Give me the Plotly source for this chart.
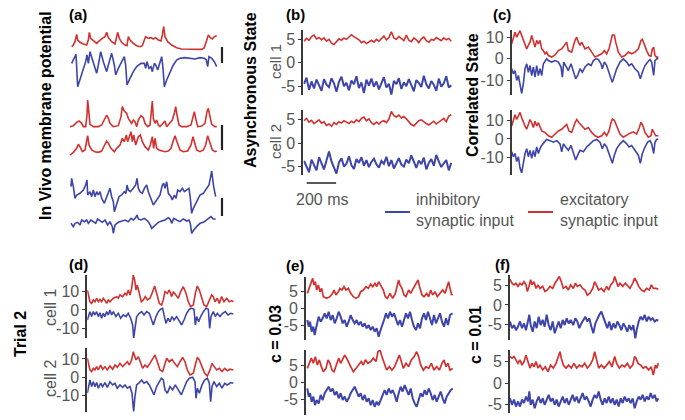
import numpy as np
import plotly.graph_objects as go

W, H = 685, 420
RED = "#d3312f"
BLUE = "#3d44aa"
AXC = "#3a3a3a"
TXC = "#555555"
FONT = "Liberation Sans, Arial, sans-serif"

# ---------------- (a) in vivo membrane potential (t: samples, v: a.u.) ----------------
A_RED1 = [(20,-65),(25,-60),(30,-50),(35,-28),(38,-45),(45,-52),(55,-57),(65,-60),(70,-45),(73,-22),(77,-40),(85,-48),(95,-55),(100,-50),(105,-45),(112,-40),(120,-35),(125,-22),(130,-38),(140,-50),(150,-57),(155,-40),(158,-22),(163,-40),(170,-52),(180,-60),(186,-62),(190,-35),(195,-45),(205,-55),(215,-62),(225,-65),(232,-62),(238,-45),(242,-35),(250,-40),(258,-38),(265,-42),(272,-38),(280,-45),(288,-48),(292,-30),(296,-5),(300,-35),(308,-50),(320,-60),(335,-68),(350,-72),(370,-73),(390,-73),(410,-73),(418,-68),(425,-45),(430,-30),(436,-38),(442,-42),(448,-35),(455,-32)]
A_BLUE1 = [(20,-115),(28,-100),(33,-88),(38,-185),(50,-150),(62,-110),(66,-90),(70,-115),(75,-80),(85,-115),(95,-145),(100,-120),(107,-80),(115,-110),(125,-140),(130,-120),(140,-85),(148,-120),(152,-150),(160,-130),(170,-110),(178,-95),(182,-120),(186,-180),(195,-160),(205,-140),(215,-125),(228,-115),(238,-115),(242,-130),(246,-110),(252,-130),(258,-125),(262,-140),(268,-115),(272,-120),(278,-135),(284,-115),(290,-95),(294,-130),(298,-185),(305,-165),(315,-140),(325,-120),(335,-105),(345,-100),(360,-98),(375,-100),(390,-102),(405,-98),(418,-100),(424,-105),(428,-125),(432,-95),(440,-100),(448,-110),(455,-125)]
A_RED2 = [(15,-95),(25,-92),(35,-82),(42,-78),(50,-85),(55,-95),(62,-95),(66,-60),(68,-15),(71,-60),(75,-88),(85,-95),(100,-95),(110,-90),(118,-75),(125,-60),(130,-70),(135,-85),(145,-95),(160,-92),(168,-65),(172,-35),(178,-48),(185,-55),(190,-70),(195,-78),(200,-85),(205,-75),(210,-80),(215,-95),(220,-75),(228,-62),(235,-68),(240,-85),(248,-95),(255,-90),(260,-50),(262,-18),(265,-70),(270,-85),(275,-75),(280,-90),(285,-95),(295,-85),(300,-78),(305,-95),(315,-85),(322,-75),(328,-55),(332,-35),(336,-60),(342,-90),(350,-95),(365,-95),(378,-90),(384,-60),(388,-50),(392,-70),(398,-95),(410,-93),(420,-85),(426,-50),(430,-40),(434,-60),(440,-88),(450,-95),(455,-95)]
A_RED3 = [(15,-180),(25,-172),(35,-160),(40,-148),(45,-155),(52,-170),(60,-165),(64,-140),(68,-122),(72,-150),(80,-165),(90,-170),(100,-172),(110,-168),(118,-150),(125,-138),(130,-145),(138,-160),(148,-170),(155,-160),(165,-150),(172,-130),(178,-140),(184,-120),(188,-140),(192,-130),(198,-110),(202,-140),(206,-120),(212,-150),(220,-125),(226,-120),(232,-140),(240,-155),(250,-165),(256,-150),(262,-125),(266,-160),(270,-130),(275,-160),(282,-165),(292,-168),(300,-170),(310,-168),(318,-160),(324,-140),(330,-122),(336,-140),(345,-165),(355,-170),(368,-168),(378,-150),(384,-125),(388,-140),(395,-165),(405,-170),(415,-165),(422,-150),(428,-122),(434,-140),(442,-165),(450,-170),(455,-168)]
A_BLUE2 = [(18,-65),(20,-40),(25,-65),(30,-100),(35,-90),(45,-85),(55,-75),(62,-60),(66,-45),(68,-90),(75,-80),(80,-95),(85,-75),(90,-95),(95,-80),(100,-90),(105,-80),(110,-100),(118,-115),(125,-95),(130,-85),(135,-70),(140,-95),(145,-110),(148,-140),(155,-115),(162,-95),(170,-90),(178,-80),(183,-85),(186,-60),(190,-75),(196,-80),(205,-70),(212,-60),(216,-40),(220,-70),(225,-80),(232,-85),(238,-70),(245,-60),(250,-80),(255,-95),(260,-110),(265,-120),(275,-105),(285,-90),(292,-60),(296,-55),(300,-70),(305,-50),(310,-85),(318,-95),(322,-105),(328,-90),(333,-100),(338,-75),(345,-80),(352,-70),(358,-80),(365,-75),(372,-70),(376,-100),(380,-145),(385,-130),(395,-110),(405,-90),(415,-85),(425,-70),(432,-60),(436,-40),(440,-18),(446,-65),(452,-95)]
A_BLUE3 = [(18,-175),(25,-185),(30,-175),(38,-172),(45,-180),(50,-165),(58,-170),(65,-165),(70,-175),(78,-165),(85,-170),(92,-175),(98,-162),(105,-168),(112,-172),(120,-165),(128,-180),(135,-170),(142,-185),(145,-205),(150,-180),(160,-172),(170,-168),(180,-165),(190,-170),(198,-160),(205,-165),(212,-158),(216,-150),(220,-162),(228,-165),(238,-160),(248,-168),(255,-178),(260,-190),(270,-180),(280,-172),(290,-168),(300,-165),(310,-158),(315,-162),(320,-175),(326,-160),(335,-165),(345,-170),(355,-162),(365,-168),(372,-165),(376,-175),(380,-205),(386,-195),(395,-185),(405,-175),(415,-172),(425,-165),(432,-160),(438,-155),(445,-162),(452,-162)]

# ---------------- (b) asynchronous state (uniformly sampled over ~1 s) ----------------
B1_EXC = [4.6,5.2,4.8,5.6,5.9,5.1,5.4,4.9,5.3,4.6,5.0,4.2,3.9,4.6,5.1,4.8,5.3,5.0,5.5,6.0,5.6,5.2,4.9,4.3,4.6,4.1,4.5,4.8,4.4,5.0,4.6,5.2,5.7,4.9,5.4,6.6,5.3,5.0,5.6,5.2,4.7,5.9,4.8,4.5,5.3,4.9,4.3,5.1,5.5,4.7,4.4,5.0,4.8,5.4,5.1,4.7,5.3,4.9,5.2,4.6]
B1_INH = [-4.5,-3.2,-5.8,-4.0,-5.5,-3.6,-4.8,-6.0,-3.5,-4.7,-5.2,-3.3,-4.4,-6.2,-4.1,-3.0,-5.0,-4.3,-5.9,-3.8,-4.6,-2.9,-5.4,-4.2,-6.5,-3.6,-4.9,-3.4,-5.1,-4.0,-5.7,-4.4,-3.1,-5.3,-4.5,-6.8,-3.9,-4.6,-3.3,-5.6,-4.2,-5.0,-3.5,-4.8,-6.1,-3.7,-4.3,-5.2,-2.8,-4.6,-5.5,-3.9,-4.7,-6.0,-3.4,-5.1,-4.4,-2.9,-5.3,-4.8]
B2_EXC = [4.8,5.3,4.5,4.9,4.2,4.7,5.0,4.3,4.6,3.8,4.1,3.6,4.4,4.0,4.6,4.3,4.8,4.5,4.2,4.7,4.4,5.0,4.6,5.3,5.6,4.8,5.2,4.4,4.0,4.5,4.1,4.6,4.8,4.4,5.1,6.8,5.9,5.6,6.0,5.4,5.7,5.2,4.6,4.0,3.7,4.3,4.8,5.0,4.5,4.2,3.9,4.4,4.7,4.1,4.5,4.9,5.3,4.6,5.8,6.1]
B2_INH = [-3.8,-5.0,-6.2,-3.5,-4.6,-5.8,-3.0,-4.4,-5.6,-3.7,-1.8,-3.9,-5.3,-6.5,-4.1,-3.2,-5.0,-4.4,-2.8,-4.7,-5.5,-3.4,-4.2,-3.0,-4.8,-3.6,-5.1,-4.0,-3.3,-4.5,-5.2,-3.8,-4.4,-2.9,-4.9,-3.6,-5.4,-4.1,-3.2,-4.6,-5.0,-3.5,-4.3,-2.6,-4.0,-5.3,-3.7,-4.5,-3.1,-5.6,-4.2,-3.4,-4.8,-2.5,-3.9,-5.1,-4.3,-3.6,-5.8,-4.2]

# ---------------- (c) correlated state (t: samples, v) ----------------
C1_EXC = [(20,6.9),(25,9.2),(30,12.3),(35,10),(40,11.5),(45,13),(50,10.8),(55,8.5),(60,6.9),(65,4.6),(70,6.2),(75,7.7),(80,10.8),(85,8.5),(90,5.4),(95,8.5),(100,6.9),(105,8.5),(110,4.6),(115,3.8),(120,2.3),(125,3.1),(130,1.5),(140,0.8),(150,1.8),(160,3.8),(170,4.6),(178,6.2),(185,7.7),(190,3.8),(200,3.1),(210,8.5),(215,10),(220,7.7),(225,6.2),(230,7.7),(240,4.6),(250,5.4),(260,3.1),(265,1.5),(270,0.8),(280,1.5),(290,2.3),(298,3.8),(305,2.3),(312,4.6),(318,9.2),(322,11),(328,11),(332,7.7),(340,3.1),(350,0.8),(360,1.5),(370,3.1),(380,2.3),(390,3.1),(400,4.6),(408,8.5),(412,9),(418,6.2),(425,3.8),(432,1.5),(438,1.2),(442,4.6),(446,5.4),(450,1.5),(455,0.8),(460,0.8)]
C1_INH = [(20,-4.6),(25,-6.9),(30,-5.4),(35,-10),(40,-7.7),(45,-13),(50,-16),(55,-11.5),(60,-4.6),(65,-2.3),(70,-6.2),(75,-3.1),(80,-7.7),(85,-3.8),(90,-8.5),(95,-3.1),(100,-7.7),(105,-4.6),(110,-7.7),(115,-2.3),(120,-0.8),(125,0),(130,-0.8),(140,-1.5),(150,-0.8),(160,-1.5),(168,-3.8),(172,-8.5),(176,-1.5),(182,-3.1),(190,-5.4),(198,-2.3),(205,-6.2),(212,-9.2),(218,-7.7),(225,-4.6),(232,-6.2),(240,-3.8),(250,-2.3),(258,-3.1),(265,-0.8),(272,0),(280,-0.3),(288,-2.3),(292,-4.6),(298,-1.5),(305,-3.1),(312,-6.9),(318,-9.2),(322,-10.8),(328,-7.7),(335,-4.6),(345,-1.5),(355,0),(365,-1.5),(372,-3.1),(380,-2.3),(390,-4.6),(400,-6.2),(406,-9.2),(412,-6.2),(420,-3.1),(428,-1.5),(435,-0.3),(440,-1.5),(446,-7.7),(450,-0.8),(455,0),(460,0)]
C2_EXC = [(20,6.9),(25,9.5),(30,13),(35,10.4),(40,12.1),(45,14.2),(50,11.3),(55,8.7),(60,6.9),(65,5.2),(70,7.8),(75,10.4),(80,8.7),(85,6.1),(90,9.5),(95,6.9),(100,8.7),(105,6.9),(110,4.3),(120,3.5),(130,1.7),(140,0.9),(150,2.6),(160,4.3),(170,5.2),(178,6.9),(185,7.8),(192,4.3),(200,3.5),(210,8.7),(215,10.4),(222,8.7),(230,6.9),(240,5.2),(250,6.1),(260,3.5),(270,1.7),(280,0.9),(290,1.7),(298,3.5),(305,1.7),(312,4.3),(318,8.7),(322,10.7),(328,10),(335,6.9),(345,2.6),(355,0.9),(365,2.1),(375,3.1),(385,3.8),(395,2.6),(403,6.1),(408,9),(414,6.9),(420,3.5),(430,0.9),(438,1.7),(442,5.2),(446,3.5),(452,1.7),(460,1.7)]
C2_INH = [(20,-6.9),(25,-9.5),(30,-7.8),(35,-12.1),(40,-9.5),(45,-15.6),(50,-18.2),(55,-13),(60,-7.8),(65,-5.2),(70,-9.5),(75,-6.1),(80,-10.4),(85,-6.1),(90,-9.5),(95,-4.3),(100,-7.8),(105,-5.2),(110,-3.5),(118,-1.7),(125,-0.3),(135,-0.9),(145,-1.7),(155,-0.9),(165,-2.6),(170,-6.9),(175,-2.6),(182,-4.3),(190,-6.1),(198,-3.5),(205,-7.8),(212,-11.3),(218,-8.7),(225,-6.1),(235,-6.9),(245,-4.3),(255,-2.6),(265,-0.9),(275,-0.3),(285,-1.7),(292,-5.2),(298,-2.6),(305,-4.3),(312,-7.8),(318,-10.4),(322,-13),(328,-8.7),(335,-5.2),(345,-2.6),(355,-0.9),(365,-2.6),(372,-4.3),(380,-3.5),(390,-6.1),(400,-8.7),(406,-13),(412,-7.8),(420,-4.3),(428,-1.7),(435,-0.9),(440,-2.6),(446,-7.8),(450,-1.7),(455,-0.3),(460,0)]

# ---------------- (d) trial 2 ----------------
D1_EXC = [(22,10.9),(26,8.2),(30,4.5),(35,3.6),(40,5.5),(45,4.5),(50,6.4),(55,4.5),(60,5.8),(65,4.5),(70,6.4),(75,5.1),(80,3.6),(85,5.5),(90,4.5),(100,6.4),(110,7.3),(115,6.4),(120,8.2),(128,7.3),(135,9.1),(140,8.2),(145,10.9),(150,8.2),(155,11.8),(160,19.1),(164,16.4),(168,10.9),(172,13.6),(178,9.1),(184,4.5),(190,5.5),(196,7.3),(202,5.5),(210,6.4),(218,10),(224,13.1),(230,9.1),(238,3.6),(245,2.7),(250,5.5),(255,10),(262,9.1),(268,10.9),(275,7.3),(280,10),(288,8.2),(295,6.4),(302,10),(310,12.7),(318,9.1),(325,4.5),(332,1.8),(340,2.7),(346,9.1),(352,13.1),(358,10.9),(365,6.4),(372,2.7),(380,1.8),(388,5.5),(395,8.2),(400,7.3),(405,4.5),(412,6.4),(418,3.6),(425,7.3),(432,4.5),(440,6.4),(448,4.5),(455,5.1),(460,4.5)]
D1_INH = [(22,-5.5),(26,-2.7),(30,-0.9),(35,-3.6),(40,-0.9),(45,-2.7),(50,-0.9),(55,-3.6),(60,-1.5),(65,-4.5),(70,-1.8),(75,-3.6),(80,-0.9),(85,-2.7),(90,0),(95,-2.7),(100,-0.9),(108,-3.6),(115,-1.8),(122,-4.5),(130,-2.7),(138,-3.6),(145,-1.8),(152,-4.5),(158,-8.2),(161,-15.5),(165,-9.1),(170,-3.6),(178,-1.8),(185,-0.9),(192,-2.7),(200,-0.9),(208,-1.8),(215,-5.5),(220,-8.2),(228,-3.6),(235,-0.9),(242,0.4),(248,0.9),(252,-2.7),(258,-7.3),(264,-4.5),(270,-6.4),(276,-3.6),(282,-5.5),(290,-3.6),(298,-6.4),(305,-8.2),(312,-5.5),(320,-1.8),(328,0.4),(335,0.9),(342,0.4),(346,-8.2),(350,-3.6),(356,-6.4),(362,-3.6),(370,-0.9),(378,0.9),(385,0.4),(389,-10),(393,-3.6),(400,-0.9),(406,-3.6),(412,-1.8),(420,-3.6),(428,-1.8),(436,-0.9),(444,-2.7),(452,-1.8),(460,-2.2)]
D2_EXC = [(22,10.4),(26,6.7),(30,4),(35,3.1),(40,4.9),(45,4),(50,5.8),(55,4),(62,6.7),(68,4.4),(75,5.8),(82,4),(90,6.2),(98,4.4),(105,6.7),(112,5.5),(120,7.6),(128,5.8),(135,7.3),(142,8.5),(148,6.7),(155,9.5),(160,14),(164,12.2),(168,9.5),(175,11.3),(182,7.6),(188,4.9),(195,6.7),(202,5.5),(210,7.6),(218,10.4),(225,12.2),(232,8.5),(240,4),(248,3.1),(254,6.7),(260,10.4),(268,8.5),(276,9.8),(284,7.6),(292,5.8),(300,8.5),(308,10.9),(315,8.5),(322,4),(330,1.3),(340,2.2),(346,6.7),(352,10.9),(358,9.5),(366,5.8),(374,2.2),(382,0.7),(390,4),(396,7.6),(402,5.8),(410,4),(418,4.9),(426,3.1),(434,4.9),(442,3.6),(450,4.4),(460,4)]
D2_INH = [(22,-8.7),(26,-4.2),(30,-1.5),(35,-5.1),(40,-2.4),(45,-5.1),(50,-2.9),(55,-6),(62,-3.3),(68,-5.1),(75,-2.9),(82,-5.5),(90,-2.4),(98,-4.2),(105,-3.3),(112,-6),(120,-4.2),(128,-5.5),(135,-4.2),(142,-6),(150,-5.1),(156,-8.7),(161,-18.7),(165,-10.5),(170,-4.2),(178,-2.9),(185,-1.5),(192,-3.3),(200,-2.4),(208,-4.2),(215,-6.9),(222,-9.6),(230,-5.1),(238,-2.4),(244,-0.5),(250,-1.5),(255,-6.9),(262,-8.7),(270,-5.1),(278,-6.9),(286,-4.2),(295,-6.9),(304,-9.6),(312,-6),(320,-2.4),(328,-0.5),(338,0),(345,-2.4),(348,-11.5),(352,-6),(358,-8.7),(366,-4.2),(374,-1.5),(382,-0.5),(388,-3.3),(392,-13.3),(396,-5.1),(402,-2.4),(410,-5.1),(418,-3.3),(426,-6),(434,-3.3),(442,-4.2),(452,-2.9),(460,-3.3)]

# ---------------- (e) c = 0.03 ----------------
E1_EXC = [(22,4.5),(28,6),(34,7.5),(38,9),(42,7),(46,8),(50,5.5),(55,7),(60,5),(65,6),(70,3.5),(80,3),(90,3.5),(98,4.5),(102,5.5),(108,4),(115,5),(120,6),(126,5.5),(132,6.5),(138,5.5),(145,6),(152,4.5),(160,3.5),(168,3),(176,3.5),(182,5),(190,5.5),(198,6.5),(205,6),(212,7.3),(218,6.5),(225,7.5),(230,6.5),(236,8),(242,7),(250,5.5),(256,3.5),(262,3),(270,4.5),(278,3),(286,4.5),(292,7.5),(296,8.5),(300,7),(306,6),(312,4),(318,3.5),(326,5.5),(332,4.5),(340,6),(348,7.5),(354,8.5),(360,6),(366,4),(372,3.5),(380,4.5),(386,3.5),(392,5.5),(398,4),(405,5),(412,3.5),(420,4.5),(428,5.5),(435,4.5),(442,7),(446,8),(450,6),(455,4),(458,4.3)]
E1_INH = [(22,-3.5),(26,-5.5),(30,-4),(35,-7),(40,-5.5),(44,-8),(48,-6),(52,-4.5),(56,-2.5),(62,-4),(68,-3),(74,-1.5),(80,-3),(86,-1),(92,-3.5),(98,-2),(104,-4.5),(110,-3),(116,-1),(122,-2.5),(128,-4.5),(134,-3.5),(140,-5.5),(146,-4),(152,-2),(158,-3.5),(164,-4.5),(170,-3.5),(176,-5),(182,-4),(188,-5.5),(194,-4.5),(200,-6),(206,-5),(212,-6.5),(218,-5.5),(224,-7),(230,-6),(236,-8.5),(240,-7),(246,-5.5),(252,-3.5),(258,-1.5),(264,-3),(270,-1),(276,-2.5),(282,-1.5),(288,-3),(294,-5),(300,-3.5),(306,-5.5),(312,-3.5),(318,-1.5),(324,-3),(330,-1),(336,-3.5),(342,-5.5),(348,-6.5),(354,-4.5),(360,-6),(366,-3),(372,-1.5),(378,-3.5),(384,-1),(390,-3),(396,-5),(402,-2),(408,-4.5),(414,-3),(420,-1.5),(426,-4),(432,-5.5),(438,-3),(444,-5),(450,-2),(458,-1.5)]
E2_EXC = [(22,4.1),(28,5.6),(34,7.1),(40,5.6),(46,7.5),(52,5.1),(58,6.6),(64,4.6),(70,3.1),(78,4.1),(84,6.6),(90,5.6),(96,3.6),(102,3.1),(110,5.1),(116,7.1),(122,5.6),(128,6.6),(134,8),(140,7.1),(146,5.6),(152,4.6),(160,3.1),(168,4.1),(176,5.1),(184,6.1),(190,5.1),(196,6.6),(204,5.6),(212,6.1),(220,7.1),(228,6.1),(234,9),(240,9.5),(246,7.5),(252,5.6),(260,3.6),(268,4.6),(276,3.6),(284,4.6),(292,6.6),(298,8),(304,6.1),(310,4.1),(318,5.6),(326,4.6),(334,6.6),(342,7.5),(350,9),(356,7.5),(362,5.1),(370,3.6),(378,4.6),(386,4.1),(394,5.6),(402,3.6),(410,4.6),(418,3.6),(426,5.6),(432,6.6),(438,4.6),(444,5.6),(450,3.6),(458,4.1)]
E2_INH = [(22,-1.8),(26,-4.2),(30,-3.2),(35,-5.7),(40,-4.2),(45,-6.7),(50,-5.2),(56,-6.2),(62,-3.7),(68,-5.2),(74,-3.2),(80,-2.3),(86,-1.3),(92,-2.7),(98,-1.8),(104,-3.7),(110,-2.7),(116,-4.7),(122,-3.2),(128,-5.2),(134,-4.2),(140,-5.7),(146,-4.7),(152,-3.2),(158,-2.3),(164,-1.3),(170,-2.7),(176,-4.2),(182,-3.2),(188,-5.2),(194,-3.7),(200,-5.7),(206,-4.7),(212,-6.7),(218,-5.2),(224,-7.2),(230,-5.7),(236,-6.7),(242,-5.2),(248,-3.7),(254,-2.3),(260,-3.7),(266,-1.8),(272,-3.2),(278,-2.3),(284,-3.7),(290,-5.7),(296,-3.2),(302,-1.3),(308,-2.7),(314,-0.8),(320,-2.3),(326,-3.7),(332,-1.8),(338,-4.7),(344,-6.2),(350,-7.2),(356,-5.2),(362,-3.2),(368,-4.2),(374,-2.3),(380,-3.7),(386,-1.8),(392,-3.2),(398,-5.2),(404,-3.7),(410,-5.7),(416,-4.2),(422,-2.7),(428,-4.7),(434,-6.2),(440,-4.2),(446,-3.2),(452,-2.3),(458,-1.8)]

# ---------------- (f) c = 0.01 ----------------
F1_EXC = [(150,6.5),(156,5.5),(162,5.1),(168,5.5),(174,4.7),(180,5.5),(186,5.1),(192,5.9),(198,5.1),(202,3.4),(207,4.7),(212,6.4),(216,5.1),(222,5.9),(228,4.2),(234,5.1),(240,4.2),(248,4.7),(255,3.4),(262,3.8),(270,4.7),(278,4.2),(285,5.5),(292,6.4),(298,7.2),(304,5.9),(310,4.2),(318,4.7),(325,3.8),(332,5.1),(340,4.2),(346,5.5),(352,4.7),(360,5.1),(368,4.2),(375,3.8),(382,2.5),(390,3),(398,4.2),(404,5.9),(410,4.7),(416,3.8),(424,4.2),(432,3.4),(440,4.7),(446,3.8),(452,5.1),(460,5.9),(464,7.2),(468,5.9),(474,4.7),(480,5.5),(488,4.7),(496,5.5),(504,4.7),(510,4.2),(518,5.5),(524,6.8),(530,5.9),(536,4.7),(544,3.8),(552,3.4),(560,4.2),(568,3.8),(574,5.1),(580,4.2),(588,4.2),(595,4)]
F1_INH = [(150,-4.2),(156,-5.9),(162,-5.1),(168,-6.4),(174,-5.5),(180,-4.2),(186,-5.9),(192,-4.7),(198,-6.4),(204,-3.4),(208,-2.5),(212,-5.1),(218,-6.8),(224,-4.2),(230,-5.9),(236,-3),(242,-5.1),(248,-3.8),(254,-5.5),(260,-2.5),(266,-5.1),(272,-6.4),(278,-4.2),(284,-7.2),(290,-5.5),(296,-4.2),(302,-5.9),(308,-3.8),(314,-5.1),(320,-3.4),(326,-4.7),(332,-3.8),(340,-5.1),(346,-3.4),(352,-4.2),(358,-5.9),(364,-4.7),(370,-3.8),(376,-3),(382,-4.2),(388,-3.4),(394,-5.5),(400,-7.2),(406,-4.7),(412,-3.4),(418,-2.5),(424,-1.7),(430,-3),(436,-4.2),(442,-5.9),(448,-4.2),(454,-6.4),(460,-4.7),(466,-5.9),(472,-4.2),(478,-5.1),(484,-6.4),(490,-4.7),(496,-5.5),(502,-6.8),(508,-5.1),(514,-6.4),(520,-5.1),(526,-8.5),(530,-6.4),(536,-4.2),(542,-3),(548,-3.8),(554,-2.5),(560,-4.2),(566,-3),(572,-3.8),(578,-3.4),(584,-4.2),(590,-3.8),(595,-4)]
F2_EXC = [(150,6.2),(156,5.8),(162,6.2),(168,5.4),(174,4.6),(180,5.4),(186,4.2),(192,5),(198,6.5),(204,5),(210,3.5),(216,4.6),(222,3.8),(228,5),(234,3.5),(240,4.2),(248,3.1),(256,3.8),(264,2.7),(272,4.2),(280,3.5),(288,4.6),(296,6.2),(300,7.3),(304,5.8),(310,4.2),(318,3.5),(326,4.2),(334,3.5),(342,4.6),(350,3.5),(358,4.2),(366,3.8),(374,4.6),(382,3.5),(390,4.2),(398,5.4),(404,7.3),(410,5.4),(416,3.5),(424,4.2),(432,3.5),(440,4.2),(448,5),(456,3.8),(464,6.2),(470,4.6),(478,3.5),(486,4.2),(494,3.8),(502,4.6),(510,3.5),(518,4.2),(524,6.2),(528,5.8),(534,4.6),(542,4.2),(550,3.5),(558,3.8),(566,3.1),(574,3.8),(580,1.9),(586,4.2),(590,3.5),(595,4.6)]
F2_INH = [(150,-3.5),(156,-5),(162,-3.8),(168,-5.4),(174,-4.2),(180,-5.4),(186,-3.8),(192,-4.6),(198,-3.1),(204,-4.2),(208,-1.9),(212,-5),(218,-3.8),(224,-5.8),(230,-4.2),(236,-3.1),(242,-4.6),(248,-3.5),(254,-5),(260,-3.8),(266,-2.7),(272,-4.2),(278,-3.5),(284,-5),(290,-3.8),(296,-5.4),(302,-4.2),(308,-3.1),(314,-4.6),(320,-3.5),(326,-5),(332,-3.8),(338,-2.7),(344,-4.2),(350,-3.1),(356,-4.6),(362,-3.5),(368,-2.3),(374,-3.8),(380,-3.1),(386,-4.2),(392,-5.4),(398,-3.8),(404,-2.7),(410,-3.5),(416,-1.9),(422,-3.8),(428,-5),(434,-3.5),(440,-4.6),(446,-3.1),(452,-4.6),(458,-3.5),(464,-5),(470,-3.8),(476,-5.4),(482,-3.5),(488,-4.6),(494,-3.1),(500,-4.2),(506,-3.5),(512,-4.6),(518,-3.5),(524,-5.8),(530,-4.2),(536,-3.1),(542,-3.8),(548,-2.7),(554,-4.2),(560,-3.1),(566,-3.8),(572,-2.3),(578,-3.5),(584,-2.7),(590,-4.2),(595,-3.5)]

TICKS_B = [-5, 0, 5]
TICKS_C = [-10, 0, 10]

fig = go.Figure()


def px(x):
    return x / W


def py(y):
    return 1 - y / H


def add_axes(idx, xpx, ypx, xr, yr, ticks=None, tsize=16):
    xa = dict(domain=[px(xpx[0]), px(xpx[1])], range=xr, visible=False,
              anchor="y%d" % idx, fixedrange=True)
    ya = dict(domain=[py(ypx[1]), py(ypx[0])], range=yr, anchor="x%d" % idx,
              showgrid=False, zeroline=False, fixedrange=True)
    if ticks is None:
        ya["visible"] = False
    else:
        ya.update(showline=True, linecolor=AXC, linewidth=1.8,
                  tickvals=ticks, ticktext=[str(t) for t in ticks],
                  ticks="outside", ticklen=3, tickwidth=1, tickcolor=AXC,
                  tickfont=dict(family=FONT, size=tsize, color=TXC))
    key = "" if idx == 1 else str(idx)
    fig.update_layout(**{"xaxis" + key: xa, "yaxis" + key: ya})


def add_line(idx, xs, ys, color, width=1.6):
    fig.add_trace(go.Scatter(x=list(xs), y=list(ys), mode="lines",
                             line=dict(color=color, width=width),
                             xaxis="x%d" % idx, yaxis="y%d" % idx,
                             showlegend=False, hoverinfo="skip"))


def add_pairs(idx, pairs, color, width=1.6):
    t, v = zip(*pairs)
    add_line(idx, t, v, color, width)


# (a) three stacked groups
add_axes(1, (65, 230), (25, 95), [0, 495], [-210, 0])
add_axes(2, (65, 230), (95, 160), [0, 495], [-195, 0])
add_axes(3, (65, 230), (165, 237), [0, 495], [-216, 0])
add_pairs(1, A_RED1, RED, 1.6)
add_pairs(1, A_BLUE1, BLUE, 1.6)
add_pairs(2, A_RED2, RED, 1.6)
add_pairs(2, A_RED3, RED, 1.6)
add_pairs(3, A_BLUE2, BLUE, 1.6)
add_pairs(3, A_BLUE3, BLUE, 1.6)

# (b)
add_axes(4, (303.3, 452), (30, 95), [-5, 1005], [-6.9, 7.0], TICKS_B)
add_axes(5, (303.3, 452), (110, 175), [-5, 1005], [-6.8, 7.1], TICKS_B)
for idx, e, i in [(4, B1_EXC, B1_INH), (5, B2_EXC, B2_INH)]:
    add_line(idx, np.linspace(0, 1000, len(e)), e, RED, 1.6)
    add_line(idx, np.linspace(0, 1000, len(i)), i, BLUE, 2.0)

# (c)
add_axes(6, (511.7, 660), (30, 95), [20, 465], [-16.7, 13.3], TICKS_C)
add_axes(7, (511.7, 660), (110, 175), [20, 465], [-19.3, 15.5], TICKS_C)
add_pairs(6, C1_EXC, RED)
add_pairs(6, C1_INH, BLUE)
add_pairs(7, C2_EXC, RED)
add_pairs(7, C2_INH, BLUE)

# (d)
add_axes(8, (87.3, 235), (275, 338), [22, 465], [-15.3, 19.1], TICKS_C)
add_axes(9, (87.3, 235), (348, 412), [22, 465], [-19.0, 16.0], TICKS_C)
add_pairs(8, D1_EXC, RED)
add_pairs(8, D1_INH, BLUE)
add_pairs(9, D2_EXC, RED)
add_pairs(9, D2_INH, BLUE)

# (e)
add_axes(10, (306, 453), (276.7, 340), [18, 459], [-9.5, 9.5], TICKS_B)
add_axes(11, (306, 453), (350, 415), [18, 459], [-9.6, 9.5], TICKS_B)
add_pairs(10, E1_EXC, RED, 1.7)
add_pairs(10, E1_INH, BLUE, 2.0)
add_pairs(11, E2_EXC, RED, 1.7)
add_pairs(11, E2_INH, BLUE, 2.0)

# (f)
add_axes(12, (510, 659), (275, 340), [150, 597], [-8.9, 7.6], TICKS_B)
add_axes(13, (510, 659), (350, 413), [150, 597], [-6.9, 7.7], TICKS_B)
add_pairs(12, F1_EXC, RED, 1.7)
add_pairs(12, F1_INH, BLUE, 2.0)
add_pairs(13, F2_EXC, RED, 1.7)
add_pairs(13, F2_INH, BLUE, 2.0)

shapes = []
# (a) scale bars
for y0, y1 in [(47, 63), (125, 150), (198, 216)]:
    shapes.append(dict(type="line", xref="paper", yref="paper", x0=px(222), x1=px(222),
                       y0=py(y0), y1=py(y1), line=dict(color="#222", width=2.2)))
# 200 ms scale bar under (b)
shapes.append(dict(type="line", xref="x4", yref="paper", x0=18, x1=218,
                   y0=py(183), y1=py(183), line=dict(color="#222", width=1.6)))
# legend lines
shapes.append(dict(type="line", xref="paper", yref="paper", x0=px(385), x1=px(410),
                   y0=py(212), y1=py(212), line=dict(color=BLUE, width=2)))
shapes.append(dict(type="line", xref="paper", yref="paper", x0=px(528), x1=px(553),
                   y0=py(212), y1=py(212), line=dict(color=RED, width=2)))

ann = []


def text(x, y, s, size=15, color="black", bold=False, angle=0, xanchor="center"):
    ann.append(dict(x=px(x), y=py(y), xref="paper", yref="paper", text=("<b>%s</b>" % s) if bold else s,
                    showarrow=False, textangle=angle, xanchor=xanchor, yanchor="middle",
                    align="left", font=dict(family=FONT, size=size, color=color)))


for s, x, y in [("(a)", 78, 15), ("(b)", 295, 15), ("(c)", 502, 15),
                ("(d)", 78, 264), ("(e)", 295, 265), ("(f)", 502, 264)]:
    text(x, y, s, 15, "black", True)

text(45, 116, "In Vivo membrane potential", 16, "black", True, -90)
text(250, 90, "Asynchronous State", 16, "black", True, -90)
text(473, 95, "Correlated State", 16, "black", True, -90)
text(20, 334, "Trial 2", 16, "black", True, -90)
text(275, 334, "c = 0.03", 16, "black", True, -90)
text(475, 335, "c = 0.01", 16, "black", True, -90)

text(275, 62, "cell 1", 15, TXC, False, -90)
text(275, 142, "cell 2", 15, TXC, False, -90)
text(50, 307, "cell 1", 16, TXC, False, -90)
text(50, 378, "cell 2", 16, TXC, False, -90)

text(321.5, 199, "200 ms", 16, TXC)
text(414, 210, "inhibitory<br>synaptic input", 16, TXC, xanchor="left")
text(558, 210, "excitatory<br>synaptic input", 16, TXC, xanchor="left")

fig.update_layout(width=W, height=H, margin=dict(l=0, r=0, t=0, b=0),
                  paper_bgcolor="white", plot_bgcolor="white",
                  shapes=shapes, annotations=ann, showlegend=False)

fig.write_html("out.html", config={"displayModeBar": False})
